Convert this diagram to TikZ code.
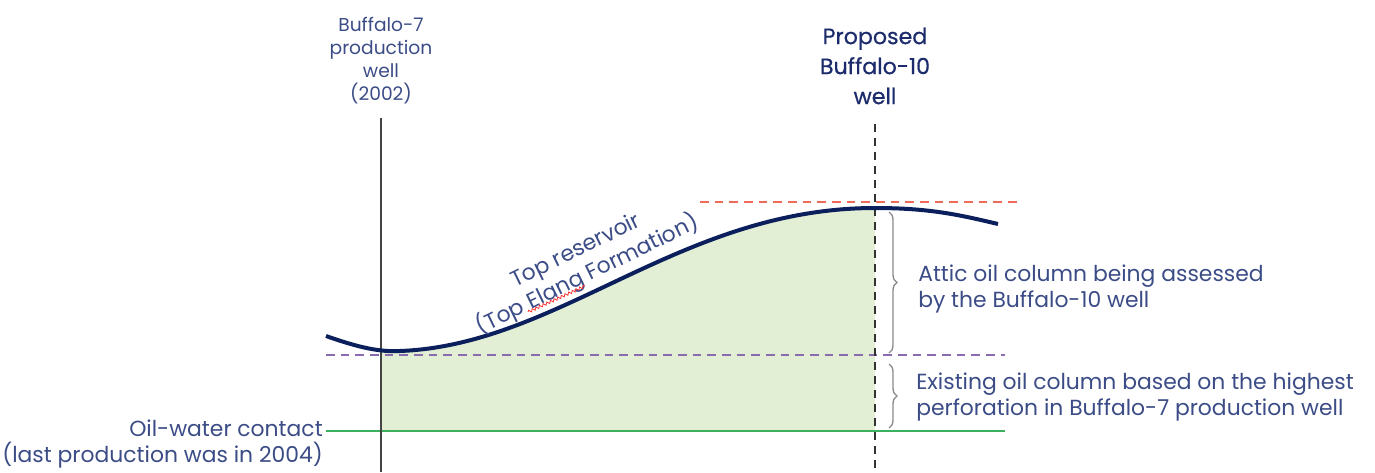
\documentclass[tikz,border=0pt]{standalone}
\usepackage{fontspec}
\setmainfont{Poppins}
\newfontfamily\propfont[FakeBold=0.6]{Poppins}
\usetikzlibrary{decorations.pathreplacing,decorations.pathmorphing}
\definecolor{navy}{HTML}{0B1F5C}
\definecolor{txt}{HTML}{3B4C86}
\definecolor{ptxt}{HTML}{1C2B6B}
\definecolor{fillg}{HTML}{E2EFD4}
\definecolor{owc}{HTML}{3DB060}
\definecolor{redd}{HTML}{F06A5A}
\definecolor{purp}{HTML}{8A6BB0}
\definecolor{wellc}{HTML}{444444}
\definecolor{brc}{HTML}{8A8A8A}
\tikzset{
  lbl/.style={text=txt,inner sep=0pt,font=\fontsize{16.4}{20.2}\selectfont},
  wlbl/.style={text=txt,inner sep=0pt,align=center,font=\fontsize{14}{17.3}\selectfont},
  plbl/.style={text=ptxt,inner sep=0pt,align=center,font=\propfont\fontsize{16.6}{22.5}\selectfont},
  brace/.style={draw=brc,line width=1pt,decorate,decoration={brace,amplitude=6pt}},
  dsh/.style={dash pattern=on 6.5pt off 4.5pt,line width=1pt}
}
\begin{document}
\begin{tikzpicture}[x=0.75pt,y=-0.75pt]
\useasboundingbox (0,0) rectangle (1375,472);
% fill
\begin{scope}
\clip (381,0) rectangle (875,431);
\fill[fillg] (326,336) .. controls (360,348) and (380,352) .. (400,351)
  .. controls (560,345) and (680,208) .. (875,208) -- (875,431) -- (326,431) -- cycle;
\end{scope}
% horizontal lines
\coordinate (rA) at (700,202); \coordinate (rB) at (1017,202);
\coordinate (pA) at (326,355); \coordinate (pB) at (1005,355);
\coordinate (gA) at (326,431); \coordinate (gB) at (1005,431);
\draw[redd,dsh] (rA) -- (rB);
\draw[purp,dsh] (pA) -- (pB);
\draw[owc,line width=1pt] (gA) -- (gB);
% wells
\coordinate (w7t) at (381,118); \coordinate (w7b) at (381,472);
\coordinate (w10t) at (875,124); \coordinate (w10b) at (875,472);
\draw[wellc,line width=1.3pt] (w7t) -- (w7b);
\draw[black!80,line width=1.3pt,dash pattern=on 6pt off 4.5pt] (w10t) -- (w10b);
% top reservoir
\draw[navy,line width=3pt] (326,336) .. controls (360,348) and (380,352) .. (400,351)
  .. controls (560,345) and (680,208) .. (875,208)
  .. controls (930,208) and (960,215) .. (998,224);
% braces
\coordinate (b1t) at (889,212); \coordinate (b1b) at (889,353);
\coordinate (b2t) at (889,364); \coordinate (b2b) at (889,428);
\draw[brace] (b1t) -- (b1b);
\draw[brace] (b2t) -- (b2b);
% labels
\node[wlbl] (l7) at (381,61) {Buffalo-7\\production\\well\\(2002)};
\node[plbl] (l10) at (875,66) {Proposed\\Buffalo-10\\well};
\node[lbl,anchor=west,align=left] (attic) at (918,289) {Attic oil column being assessed\\by the Buffalo-10 well};
\node[lbl,anchor=west,align=left] (exist) at (916,397) {Existing oil column based on the highest\\perforation in Buffalo-7 production well};
\node[lbl,anchor=east,align=right] (owcl) at (323,444) {Oil-water contact\\(last production was in 2004)};
\node[lbl,rotate=26,align=center] (topr) at (582,264) {Top reservoir\\(Top Elang Formation)};
\draw[red!80,line width=0.6pt,decorate,decoration={snake,amplitude=1pt,segment length=3pt}] (528,312) -- (585,286);
\end{tikzpicture}
\end{document}
